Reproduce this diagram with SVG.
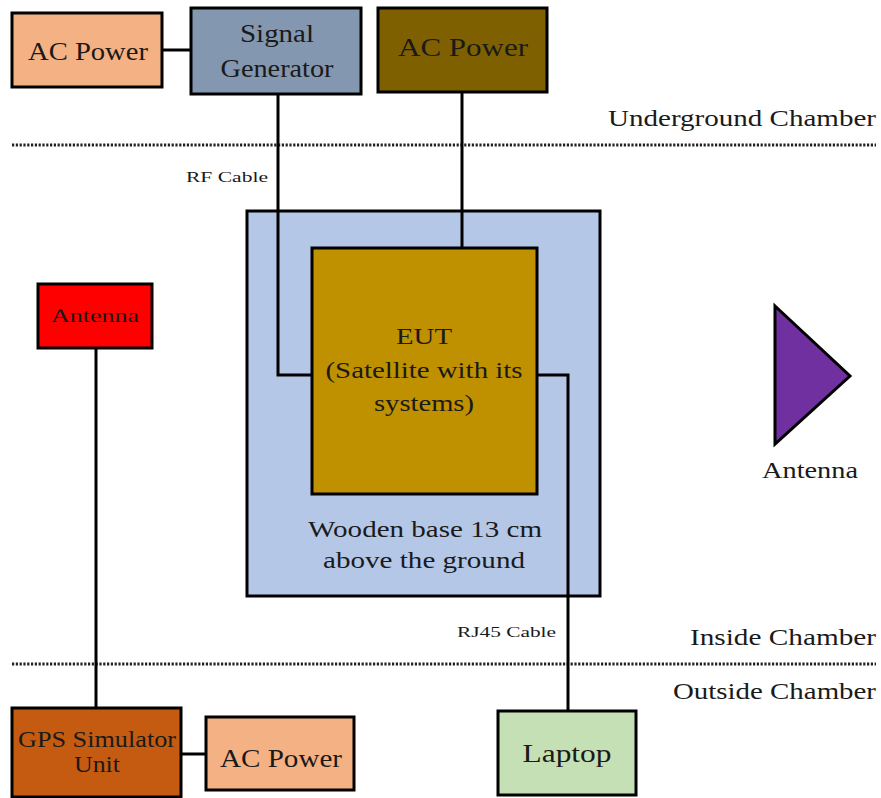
<svg xmlns="http://www.w3.org/2000/svg" width="881" height="798" viewBox="0 0 881 798" font-family="'Liberation Serif', 'DejaVu Serif', serif">
  <style>
    .box { stroke: #000; stroke-width: 3; }
    .wire { fill: none; stroke: #000; stroke-width: 3; }
    .sep { fill: none; stroke: #222; stroke-width: 3; stroke-dasharray: 2.2 1.6; }
    text { font-family: 'Liberation Serif', 'DejaVu Serif', serif; fill: #1a1a1a; }
    .lg { font-size: 25px; text-anchor: middle; }
    .md { font-size: 24px; text-anchor: middle; }
    .sm { font-size: 19px; text-anchor: middle; }
    .zone { font-size: 24px; text-anchor: end; }
    .cab { font-size: 15px; }
  </style>

  <!-- chamber boundaries -->
  <g id="boundaries">
    <line class="sep" x1="12" y1="145" x2="876" y2="145"/>
    <line class="sep" x1="12" y1="664" x2="876" y2="664"/>
    <text class="zone" x="876" y="126" textLength="268" lengthAdjust="spacingAndGlyphs">Underground Chamber</text>
    <text class="zone" x="876" y="645" textLength="186" lengthAdjust="spacingAndGlyphs">Inside Chamber</text>
    <text class="zone" x="876" y="699" textLength="203" lengthAdjust="spacingAndGlyphs">Outside Chamber</text>
  </g>

  <!-- wooden base -->
  <g id="base">
    <rect class="box" x="247" y="211" width="353" height="385" fill="#B4C7E7"/>
    <text class="md" x="425" y="537" textLength="234" lengthAdjust="spacingAndGlyphs">Wooden base 13 cm</text>
    <text class="md" x="424" y="568" textLength="202" lengthAdjust="spacingAndGlyphs">above the ground</text>
  </g>

  <!-- cables -->
  <g id="connectors">
    <line class="wire" x1="162" y1="50" x2="191" y2="50"/>
    <polyline class="wire" points="278,94 278,375 312,375"/>
    <line class="wire" x1="462" y1="92" x2="462" y2="248"/>
    <polyline class="wire" points="537,375 568,375 568,711"/>
    <line class="wire" x1="96" y1="348" x2="96" y2="708"/>
    <line class="wire" x1="181" y1="754" x2="206" y2="754"/>
    <text class="cab" x="186" y="182" textLength="82" lengthAdjust="spacingAndGlyphs">RF Cable</text>
    <text class="cab" x="457" y="637" textLength="99" lengthAdjust="spacingAndGlyphs">RJ45 Cable</text>
  </g>

  <g id="ac-power-sg">
    <rect class="box" x="12" y="13" width="150" height="74" fill="#F4B183"/>
    <text class="lg" x="88" y="60" textLength="120" lengthAdjust="spacingAndGlyphs">AC Power</text>
  </g>

  <g id="signal-generator">
    <rect class="box" x="191" y="8" width="170" height="86" fill="#8497B0"/>
    <text class="lg" x="277" y="42" textLength="74" lengthAdjust="spacingAndGlyphs">Signal</text>
    <text class="lg" x="277" y="77" textLength="113" lengthAdjust="spacingAndGlyphs">Generator</text>
  </g>

  <g id="ac-power-eut">
    <rect class="box" x="378" y="8" width="169" height="84" fill="#7F6000"/>
    <text class="lg" x="463" y="56" textLength="130" lengthAdjust="spacingAndGlyphs">AC Power</text>
  </g>

  <g id="eut">
    <rect class="box" x="312" y="248" width="225" height="246" fill="#BF9000"/>
    <text class="md" x="424" y="344" textLength="56" lengthAdjust="spacingAndGlyphs">EUT</text>
    <text class="md" x="424" y="378" textLength="197" lengthAdjust="spacingAndGlyphs">(Satellite with its</text>
    <text class="md" x="424" y="411" textLength="100" lengthAdjust="spacingAndGlyphs">systems)</text>
  </g>

  <g id="gps-antenna">
    <rect class="box" x="38" y="284" width="114" height="64" fill="#FF0000"/>
    <text class="sm" x="95" y="322" textLength="88" lengthAdjust="spacingAndGlyphs">Antenna</text>
  </g>

  <g id="chamber-antenna">
    <polygon class="box" points="775,306 850,376 775,444" fill="#7030A0"/>
    <text class="md" x="810" y="478" textLength="96" lengthAdjust="spacingAndGlyphs">Antenna</text>
  </g>

  <g id="gps-simulator">
    <rect class="box" x="12" y="708" width="169" height="89" fill="#C55A11"/>
    <text class="md" x="97" y="747" textLength="158" lengthAdjust="spacingAndGlyphs">GPS Simulator</text>
    <text class="md" x="97" y="772" textLength="46" lengthAdjust="spacingAndGlyphs">Unit</text>
  </g>

  <g id="ac-power-gps">
    <rect class="box" x="206" y="717" width="148" height="73" fill="#F4B183"/>
    <text class="lg" x="281" y="767" textLength="122" lengthAdjust="spacingAndGlyphs">AC Power</text>
  </g>

  <g id="laptop">
    <rect class="box" x="498" y="711" width="138" height="84" fill="#C5E0B4"/>
    <text class="lg" x="567" y="762" textLength="89" lengthAdjust="spacingAndGlyphs">Laptop</text>
  </g>
</svg>
